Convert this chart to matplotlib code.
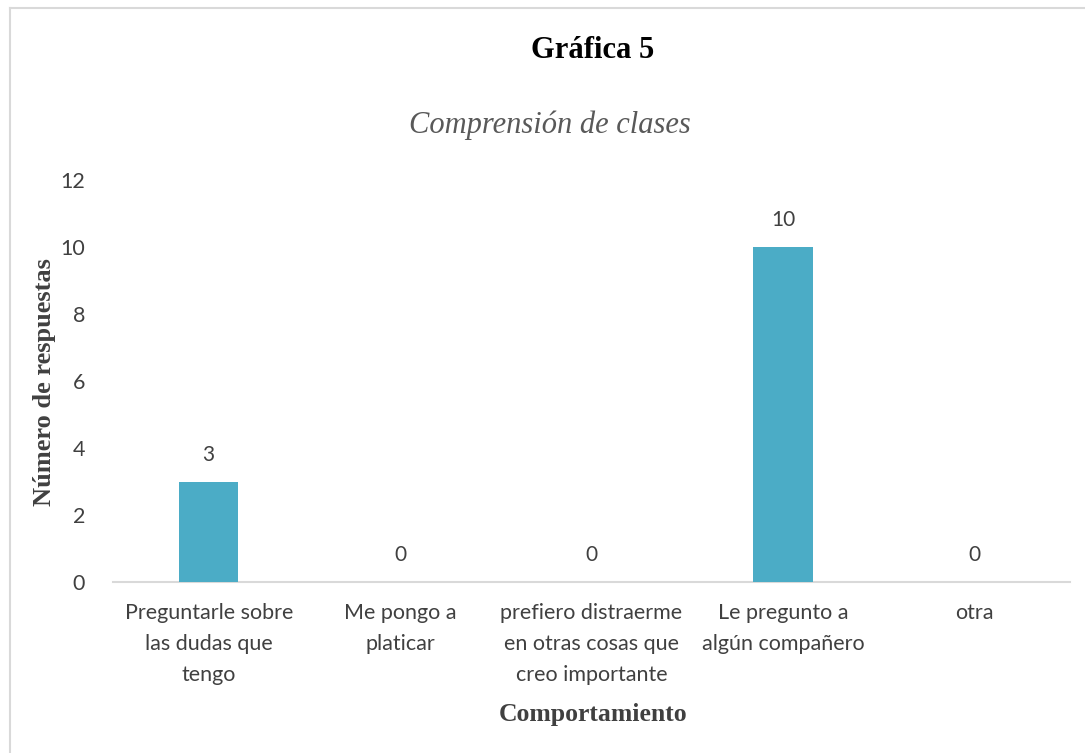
import matplotlib.pyplot as plt
from matplotlib.lines import Line2D
import numpy as np

categories = [
    "Preguntarle sobre\nlas dudas que\ntengo",
    "Me pongo a\nplaticar",
    "prefiero distraerme\nen otras cosas que\ncreo importante",
    "Le pregunto a\nalgún compañero",
    "otra",
]
respuestas = [3, 0, 0, 10, 0]
y_ticks = [0, 2, 4, 6, 8, 10, 12]

W, H = 1085, 753
fig = plt.figure(figsize=(W / 100, H / 100), dpi=100)
ax = fig.add_axes([113 / W, 1 - 582 / H, (1070 - 113) / W, (582 - 180) / H])

x = np.arange(len(categories))
bars = ax.bar(x, respuestas, width=0.31, color="#4BACC6", zorder=3)
for xi, v in zip(x, respuestas):
    ax.annotate(str(v), (xi, v), xytext=(0, 12), textcoords="offset points",
                ha="center", va="bottom", fontsize=15, family="Lato", color="#404040")

ax.set_xlim(-0.5, len(categories) - 0.5)
ax.set_ylim(0, 12)
ax.set_yticks(y_ticks)
ax.set_xticks(x)
ax.set_xticklabels(categories, family="Lato", fontsize=15.5, color="#404040",
                   linespacing=1.7, va="top")
ax.tick_params(axis="x", length=0, pad=15)
ax.tick_params(axis="y", length=0, pad=20, labelsize=15.5, labelcolor="#404040")
for lbl in ax.get_yticklabels():
    lbl.set_family("Lato")

for s in ["top", "right", "left"]:
    ax.spines[s].set_visible(False)
ax.spines["bottom"].set_color("#D9D9D9")
ax.spines["bottom"].set_linewidth(1.5)

fig.text(593 / W, 1 - 51 / H, "Gráfica 5", ha="center", va="center",
         family="Liberation Serif", fontweight="bold", fontsize=22, color="black")
fig.text(550 / W, 1 - 125 / H, "Comprensión de clases", ha="center", va="center",
         family="Liberation Serif", style="italic", fontsize=22, color="#595959")
fig.text(593 / W, 1 - 714 / H, "Comportamiento", ha="center", va="center",
         family="Liberation Serif", fontweight="bold", fontsize=18.5, color="#404040")
fig.text(45 / W, 1 - 382 / H, "Número de respuestas", ha="center", va="center",
         rotation=90, family="Liberation Serif", fontweight="bold", fontsize=19,
         color="#404040")

# chart border
fig.add_artist(Line2D([10 / W, 10 / W], [0, 1 - 8 / H], color="#D9D9D9", lw=1.5))
fig.add_artist(Line2D([10 / W, 1], [1 - 8 / H, 1 - 8 / H], color="#D9D9D9", lw=1.5))

fig.savefig("out.png", dpi=100, facecolor="white")
